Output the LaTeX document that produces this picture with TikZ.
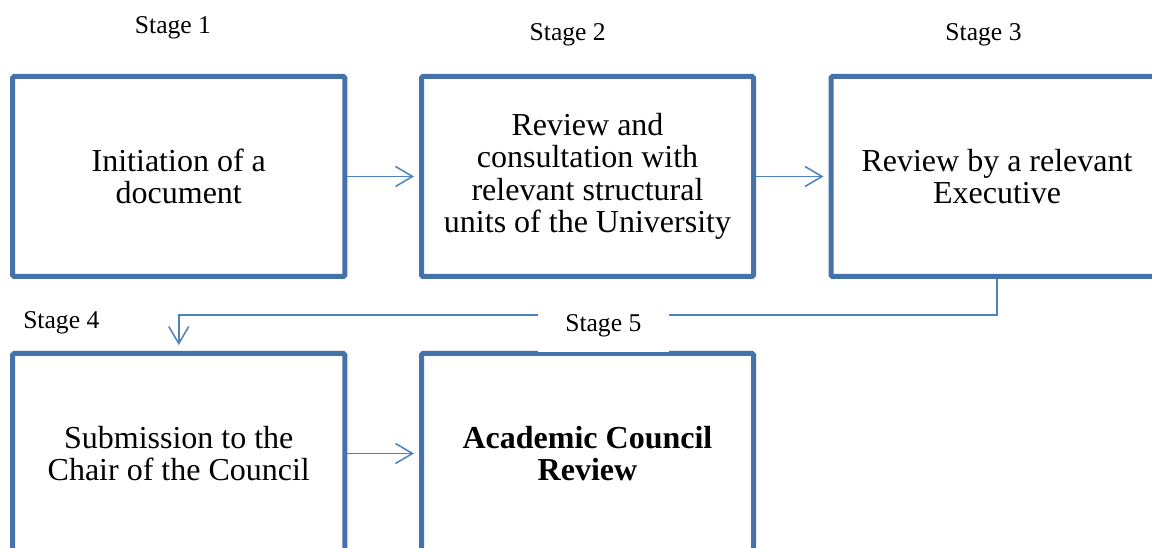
\documentclass[tikz,border=0pt]{standalone}
\usepackage{fontspec}
\setmainfont{Liberation Serif}
\usetikzlibrary{arrows.meta}
\definecolor{boxblue}{RGB}{70,114,172}
\definecolor{lineblue}{RGB}{79,129,189}
\tikzset{
  stagebox/.style={draw=boxblue, line width=5bp, rounded corners=1.5bp,
    minimum width=332bp, minimum height=200bp, inner sep=0pt,
    align=center, font=\fontsize{32bp}{32.4bp}\selectfont},
  conn/.style={draw=lineblue, line width=1.5bp,
    -{Straight Barb[length=17bp,width=20bp,line width=1.5bp]}},
  stagelbl/.style={anchor=base, inner sep=0pt, font=\fontsize{25.6bp}{28bp}\selectfont}
}
\begin{document}
\begin{tikzpicture}[x=1bp,y=-1bp]
\useasboundingbox (0,0) rectangle (1152,548);
\fill[white] (0,0) rectangle (1152,548);
% boxes
\node[stagebox] (b1) at (178.75,176.5) {Initiation of a\\document};
\node[stagebox] (b2) at (587.5,176.5) {Review and\\consultation with\\relevant structural\\units of the University};
\node[stagebox] (b3) at (997,176.5) {Review by a relevant\\Executive};
\node[stagebox] (b4) at (178.75,453.5) {Submission to the\\Chair of the Council};
\node[stagebox] (b5) at (587.5,453.5) {\bfseries Academic Council\\\bfseries Review};
% connectors
\draw[conn, shorten >=5bp] (b1.east) -- (b2.west);
\draw[conn, shorten >=5bp] (b2.east) -- (b3.west);
\draw[conn, shorten >=5bp] (b4.east) -- (b5.west);
\draw[conn, shorten >=6bp] (b3.south) -- ++(0,36) -| (b4.north);
% stage 5 background
\fill[white] (538,312) rectangle (669,352.3);
% stage labels
\node[stagelbl] (s1) at (173,33.3) {Stage 1};
\node[stagelbl] (s2) at (567.7,40.7) {Stage 2};
\node[stagelbl] (s3) at (983.5,40.7) {Stage 3};
\node[stagelbl] (s4) at (61.3,328.3) {Stage 4};
\node[stagelbl] (s5) at (603.3,331.7) {Stage 5};
\end{tikzpicture}
\end{document}
